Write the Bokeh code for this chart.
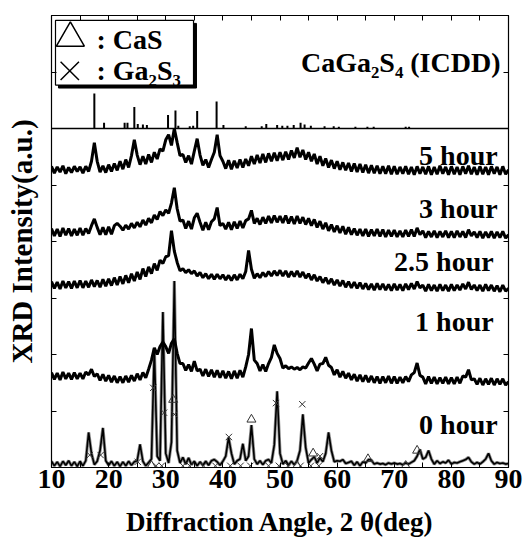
from bokeh.plotting import figure
from bokeh.models import FixedTicker, LinearAxis, Label, Span
from bokeh.embed import file_html
from bokeh.resources import INLINE
import numpy as np

# ---------------- data ----------------
two_theta = np.arange(10.0, 90.25, 0.5)   # sampling grid, 161 points

# trace intensities (a.u.) relative to each trace's own baseline
hour0 = [
    0.11, 0.03, 0.10, 0.02, 0.11, 0.04, 0.12, 0.03, 0.10, 0.02,
    0.11, 0.03, 0.12, 0.62, 0.25, 0.05, 0.11, 0.30, 0.70, 0.12,
    0.04, 0.11, 0.03, 0.10, 0.02, 0.10, 0.03, 0.11, 0.04, 0.10,
    0.12, 0.41, 0.11, 0.03, 0.09, 0.15, 2.10, 0.20, 0.12, 2.75,
    0.25, 0.08, 0.45, 3.30, 0.30, 0.08, 0.18, 0.06, 0.17, 0.05,
    0.11, 0.03, 0.10, 0.04, 0.11, 0.04, 0.12, 0.14, 0.10, 0.04,
    0.11, 0.20, 0.53, 0.25, 0.06, 0.12, 0.15, 0.42, 0.12, 0.20,
    0.75, 0.15, 0.06, 0.12, 0.05, 0.12, 0.14, 0.08, 0.40, 1.35,
    0.25, 0.06, 0.12, 0.04, 0.11, 0.05, 0.12, 0.30, 0.94, 0.35,
    0.08, 0.14, 0.19, 0.08, 0.17, 0.10, 0.25, 0.62, 0.30, 0.10,
    0.12, 0.11, 0.14, 0.07, 0.09, 0.11, 0.04, 0.10, 0.03, 0.10,
    0.08, 0.14, 0.13, 0.06, 0.08, 0.06, 0.07, 0.05, 0.08, 0.06,
    0.08, 0.06, 0.07, 0.05, 0.08, 0.06, 0.09, 0.12, 0.20, 0.32,
    0.15, 0.18, 0.30, 0.15, 0.06, 0.12, 0.07, 0.10, 0.08, 0.13,
    0.06, 0.09, 0.08, 0.10, 0.12, 0.14, 0.18, 0.10, 0.06, 0.09,
    0.06, 0.10, 0.15, 0.25, 0.12, 0.06, 0.09, 0.07, 0.08, 0.06,
    0.07]

hour1 = [
    0.18, 0.06, 0.17, 0.05, 0.19, 0.07, 0.17, 0.06, 0.18, 0.07,
    0.17, 0.07, 0.19, 0.14, 0.24, 0.11, 0.16, 0.04, 0.15, 0.03,
    0.13, 0.01, 0.12, 0.00, 0.11, 0.00, 0.12, 0.01, 0.13, 0.03,
    0.16, 0.05, 0.18, 0.09, 0.24, 0.40, 0.62, 0.50, 0.64, 0.72,
    0.64, 0.52, 0.70, 0.78, 0.52, 0.34, 0.34, 0.22, 0.32, 0.20,
    0.38, 0.21, 0.24, 0.12, 0.24, 0.11, 0.23, 0.10, 0.22, 0.09,
    0.21, 0.08, 0.20, 0.07, 0.21, 0.08, 0.22, 0.10, 0.28, 0.50,
    0.96, 0.40, 0.34, 0.21, 0.32, 0.20, 0.34, 0.45, 0.67, 0.52,
    0.43, 0.26, 0.30, 0.25, 0.28, 0.24, 0.27, 0.23, 0.28, 0.26,
    0.35, 0.43, 0.33, 0.21, 0.33, 0.34, 0.45, 0.31, 0.27, 0.14,
    0.23, 0.10, 0.20, 0.08, 0.17, 0.05, 0.15, 0.03, 0.14, 0.02,
    0.13, 0.01, 0.12, 0.00, 0.11, -0.01, 0.11, 0.00, 0.12, -0.01,
    0.11, -0.01, 0.10, 0.00, 0.11, 0.02, 0.14, 0.18, 0.35, 0.13,
    0.10, -0.02, 0.11, -0.01, 0.10, -0.02, 0.09, -0.01, 0.10, -0.02,
    0.09, -0.02, 0.10, -0.01, 0.12, 0.10, 0.23, 0.05, 0.07, -0.03,
    0.08, -0.04, 0.07, -0.03, 0.08, -0.04, 0.07, -0.03, 0.07, -0.04,
    0.02]

hour2_5 = [
    0.14, 0.02, 0.13, 0.01, 0.15, 0.03, 0.14, 0.02, 0.15, 0.03,
    0.16, 0.03, 0.15, 0.04, 0.17, 0.05, 0.16, 0.04, 0.18, 0.06,
    0.19, 0.07, 0.21, 0.08, 0.23, 0.10, 0.25, 0.12, 0.28, 0.15,
    0.31, 0.18, 0.37, 0.23, 0.40, 0.28, 0.46, 0.34, 0.52, 0.46,
    0.58, 0.60, 1.04, 0.68, 0.48, 0.33, 0.37, 0.30, 0.35, 0.28,
    0.33, 0.24, 0.30, 0.21, 0.28, 0.19, 0.27, 0.18, 0.27, 0.19,
    0.26, 0.17, 0.25, 0.16, 0.26, 0.17, 0.27, 0.19, 0.32, 0.69,
    0.36, 0.20, 0.28, 0.21, 0.30, 0.23, 0.32, 0.24, 0.33, 0.25,
    0.34, 0.24, 0.33, 0.22, 0.32, 0.23, 0.33, 0.22, 0.31, 0.20,
    0.28, 0.17, 0.26, 0.15, 0.23, 0.12, 0.21, 0.10, 0.19, 0.08,
    0.17, 0.06, 0.16, 0.04, 0.14, 0.03, 0.13, 0.02, 0.12, 0.01,
    0.11, 0.00, 0.10, -0.01, 0.11, 0.00, 0.10, -0.01, 0.09, -0.02,
    0.10, -0.01, 0.09, -0.02, 0.10, 0.00, 0.11, 0.01, 0.14, 0.03,
    0.08, -0.03, 0.09, -0.02, 0.08, -0.03, 0.09, -0.02, 0.08, -0.03,
    0.09, -0.02, 0.08, -0.01, 0.10, 0.01, 0.13, 0.00, 0.08, -0.02,
    0.08, -0.03, 0.09, -0.02, 0.08, -0.03, 0.07, -0.04, 0.08, -0.03,
    0.02]

hour3 = [
    0.13, 0.00, 0.12, -0.01, 0.14, 0.01, 0.13, 0.00, 0.12, 0.01,
    0.14, 0.01, 0.13, 0.04, 0.18, 0.30, 0.15, 0.02, 0.15, 0.02,
    0.16, 0.03, 0.18, 0.22, 0.17, 0.10, 0.19, 0.12, 0.22, 0.14,
    0.24, 0.16, 0.28, 0.19, 0.31, 0.23, 0.37, 0.29, 0.43, 0.36,
    0.46, 0.40, 0.58, 0.85, 0.48, 0.26, 0.28, 0.13, 0.26, 0.12,
    0.32, 0.40, 0.24, 0.10, 0.24, 0.11, 0.25, 0.30, 0.50, 0.18,
    0.22, 0.12, 0.24, 0.11, 0.25, 0.13, 0.26, 0.14, 0.27, 0.30,
    0.45, 0.22, 0.31, 0.20, 0.33, 0.22, 0.35, 0.23, 0.36, 0.24,
    0.35, 0.23, 0.36, 0.22, 0.34, 0.21, 0.35, 0.22, 0.33, 0.20,
    0.31, 0.18, 0.29, 0.15, 0.26, 0.12, 0.23, 0.09, 0.20, 0.07,
    0.18, 0.05, 0.17, 0.03, 0.15, 0.02, 0.13, 0.01, 0.12, 0.00,
    0.12, -0.01, 0.11, 0.00, 0.12, -0.01, 0.11, -0.02, 0.10, -0.01,
    0.10, -0.02, 0.09, -0.02, 0.10, -0.01, 0.11, -0.01, 0.14, 0.02,
    0.09, -0.03, 0.08, -0.02, 0.09, -0.03, 0.08, -0.02, 0.09, -0.03,
    0.08, -0.03, 0.09, -0.02, 0.08, -0.03, 0.11, 0.00, 0.07, -0.03,
    0.08, -0.04, 0.07, -0.03, 0.08, -0.04, 0.07, -0.03, 0.08, -0.04,
    0.02]

hour5 = [
    0.13, 0.01, 0.12, 0.03, 0.14, 0.00, 0.11, 0.02, 0.13, 0.04,
    0.12, 0.01, 0.13, 0.04, 0.22, 0.55, 0.22, 0.03, 0.14, 0.02,
    0.16, 0.04, 0.18, 0.06, 0.22, 0.08, 0.25, 0.11, 0.32, 0.60,
    0.33, 0.16, 0.31, 0.17, 0.34, 0.20, 0.38, 0.26, 0.44, 0.40,
    0.60, 0.69, 0.50, 0.80, 0.55, 0.32, 0.34, 0.20, 0.32, 0.17,
    0.40, 0.62, 0.33, 0.15, 0.25, 0.11, 0.25, 0.38, 0.69, 0.32,
    0.22, 0.09, 0.24, 0.08, 0.23, 0.10, 0.25, 0.11, 0.26, 0.14,
    0.31, 0.17, 0.33, 0.19, 0.35, 0.20, 0.36, 0.22, 0.37, 0.23,
    0.38, 0.24, 0.39, 0.25, 0.41, 0.28, 0.46, 0.29, 0.42, 0.25,
    0.38, 0.22, 0.35, 0.17, 0.31, 0.14, 0.27, 0.11, 0.24, 0.09,
    0.22, 0.07, 0.20, 0.06, 0.19, 0.04, 0.18, 0.03, 0.17, 0.02,
    0.16, 0.01, 0.15, 0.01, 0.14, 0.00, 0.13, 0.00, 0.14, -0.01,
    0.13, -0.01, 0.12, 0.00, 0.13, -0.01, 0.12, -0.02, 0.13, 0.00,
    0.12, -0.01, 0.13, -0.02, 0.12, -0.01, 0.14, 0.00, 0.12, -0.02,
    0.13, -0.01, 0.12, -0.02, 0.13, 0.00, 0.14, -0.01, 0.12, -0.02,
    0.13, -0.01, 0.12, -0.02, 0.13, 0.00, 0.12, -0.02, 0.13, -0.01,
    0.07]

traces = [hour0, hour1, hour2_5, hour3, hour5]
trace_offsets = [0.0, 1.5, 3.15, 4.1, 5.2]
trace_labels = ["0 hour", "1 hour", "2.5 hour", "3 hour", "5 hour"]
label_x = [88.1, 87.4, 87.4, 88.1, 88.1]
label_y = [0.76, 2.58, 3.64, 4.59, 5.52]

# ICDD reference CaGa2S4 stick pattern
icdd_offset = 6.0
icdd_pos = [17.5, 19.2, 22.8, 23.3, 24.5, 25.1, 26.0, 26.7, 30.4, 31.7, 32.2,
            34.2, 34.8, 35.5, 38.9, 40.1, 44.0, 46.8, 47.6, 49.5, 50.4, 51.3,
            52.4, 53.6, 54.3, 55.4, 57.8, 59.4, 60.3, 63.2, 65.3, 66.4, 72.0, 72.6]
icdd_int = [0.62, 0.10, 0.10, 0.10, 0.38, 0.08, 0.07, 0.06, 0.24, 0.32, 0.05,
            0.04, 0.05, 0.31, 0.48, 0.06, 0.04, 0.04, 0.08, 0.06, 0.05, 0.05,
            0.06, 0.10, 0.07, 0.05, 0.04, 0.04, 0.03, 0.03, 0.03, 0.03, 0.03, 0.03]

# phase markers on the 0 hour pattern
cas_x = [31.3, 45.0, 55.8, 65.4, 74.0, 27.5, 53.0, 72.0]
cas_y = [1.20, 0.85, 0.25, 0.15, 0.30, 0.03, 0.03, 0.03]
ga2s3_x = [27.8, 29.7, 31.5, 41.05, 49.3, 53.9, 16.7, 18.6, 25.1, 57.0,
           28.3, 29.3, 33.0, 34.2, 36.6, 38.7, 41.3, 43.1, 44.8, 48.0,
           49.8, 51.4, 53.6, 55.4, 56.8]
ga2s3_y = [1.41, 0.97, 0.94, 0.54, 1.14, 1.12, 0.22, 0.22, 0.10, 0.20,
           0.03, 0.03, 0.03, 0.03, 0.03, 0.03, 0.03, 0.03, 0.03, 0.03,
           0.03, 0.03, 0.03, 0.03, 0.03]

x_ticks = [10, 20, 30, 40, 50, 60, 70, 80, 90]
x_minor = [15, 25, 35, 45, 55, 65, 75, 85]
y_ticks = [1, 2, 3, 4, 5, 6, 7]

# ---------------- figure ----------------
FONT = "Liberation Serif"
p = figure(width=524, height=539, x_range=(10, 90), y_range=(0, 8),
           output_backend="svg", toolbar_location=None,
           min_border_left=51, min_border_right=16, min_border_top=15,
           min_border_bottom=69)
p.grid.visible = False
p.outline_line_color = "black"
p.outline_line_width = 1.2
p.background_fill_color = "white"

xt = FixedTicker(ticks=x_ticks, minor_ticks=x_minor)
yt = FixedTicker(ticks=y_ticks, minor_ticks=[])

def style_axis(ax, ticks, labels):
    ax.axis_line_color = "black"
    ax.major_tick_in = 5
    ax.major_tick_out = 0
    ax.minor_tick_in = 5
    ax.minor_tick_out = 0
    ax.major_tick_line_color = "black"
    ax.minor_tick_line_color = "black"
    if not labels:
        ax.major_label_overrides = {t: "" for t in ticks}
        ax.major_label_standoff = 0

p.xaxis.ticker = xt
p.yaxis.ticker = yt
style_axis(p.xaxis[0], x_ticks, True)
style_axis(p.yaxis[0], y_ticks, False)
p.xaxis.major_label_text_font = FONT
p.xaxis.major_label_text_font_style = "bold"
p.xaxis.major_label_text_font_size = "28px"
p.xaxis.major_label_standoff = 2
p.xaxis.major_label_text_color = "black"
p.xaxis.axis_label = "Diffraction Angle, 2 \u03b8(deg)"
p.xaxis.axis_label_text_font = FONT
p.xaxis.axis_label_text_font_style = "bold"
p.xaxis.axis_label_text_font_size = "27px"
p.xaxis.axis_label_text_color = "black"
p.xaxis.axis_label_standoff = 16

p.yaxis.axis_label = "XRD Intensity(a.u.)"
p.yaxis.axis_label_text_font = FONT
p.yaxis.axis_label_text_font_style = "bold"
p.yaxis.axis_label_text_font_size = "29px"
p.yaxis.axis_label_text_color = "black"
p.yaxis.axis_label_standoff = 14

top_ax = LinearAxis(ticker=xt)
style_axis(top_ax, x_ticks, False)
p.add_layout(top_ax, "above")
right_ax = LinearAxis(ticker=yt)
style_axis(right_ax, y_ticks, False)
p.add_layout(right_ax, "right")

# ICDD baseline and sticks
p.add_layout(Span(location=icdd_offset, dimension="width", line_color="black", line_width=1.5))
p.segment(x0=icdd_pos, y0=[icdd_offset] * len(icdd_pos), x1=icdd_pos,
          y1=[icdd_offset + v for v in icdd_int], line_color="black", line_width=2)

# traces
for i, (tr, off) in enumerate(zip(traces, trace_offsets)):
    ys = np.array(tr) + off
    if i == 0:
        p.line(two_theta, ys, line_color="#8c8c8c", line_width=3.2)
        p.line(two_theta, ys, line_color="black", line_width=1.6)
    else:
        p.line(two_theta, ys, line_color="black", line_width=3.0, line_join="bevel")

# markers
p.scatter(cas_x, cas_y, marker="triangle", size=9, fill_color=None,
          line_color="#333333", line_width=1)
p.scatter(ga2s3_x, ga2s3_y, marker="x", size=9, line_color="#333333", line_width=1)

# trace labels
for t, lx, ly in zip(trace_labels, label_x, label_y):
    p.add_layout(Label(x=lx, y=ly, text=t, text_align="right", text_baseline="alphabetic",
                       text_font=FONT, text_font_style="bold", text_font_size="28px",
                       text_color="black"))

p.add_layout(Label(x=88.6, y=7.16, text="CaGa\u2082S\u2084 (ICDD)", text_align="right",
                   text_baseline="alphabetic", text_font=FONT, text_font_style="bold",
                   text_font_size="28px", text_color="black"))

# legend box with shadow
p.quad(left=[11.22], right=[35.38], top=[7.86], bottom=[6.716], fill_color="black",
       line_color="black")
p.quad(left=[10.70], right=[34.86], top=[7.912], bottom=[6.769], fill_color="white",
       line_color="black", line_width=1.2)
p.scatter([13.3], [7.60], marker="triangle", size=28, fill_color=None,
          line_color="black", line_width=1.5)
p.scatter([13.2], [7.02], marker="x", size=26, line_color="black", line_width=1.5)
p.add_layout(Label(x=17.88, y=7.58, text=": CaS", text_font=FONT, text_font_style="bold",
                   text_font_size="28px", text_baseline="alphabetic", text_color="black"))
p.add_layout(Label(x=17.88, y=7.03, text=": Ga\u2082S\u2083", text_font=FONT,
                   text_font_style="bold", text_font_size="28px",
                   text_baseline="alphabetic", text_color="black"))

open("out.html", "w").write(file_html(p, INLINE))
